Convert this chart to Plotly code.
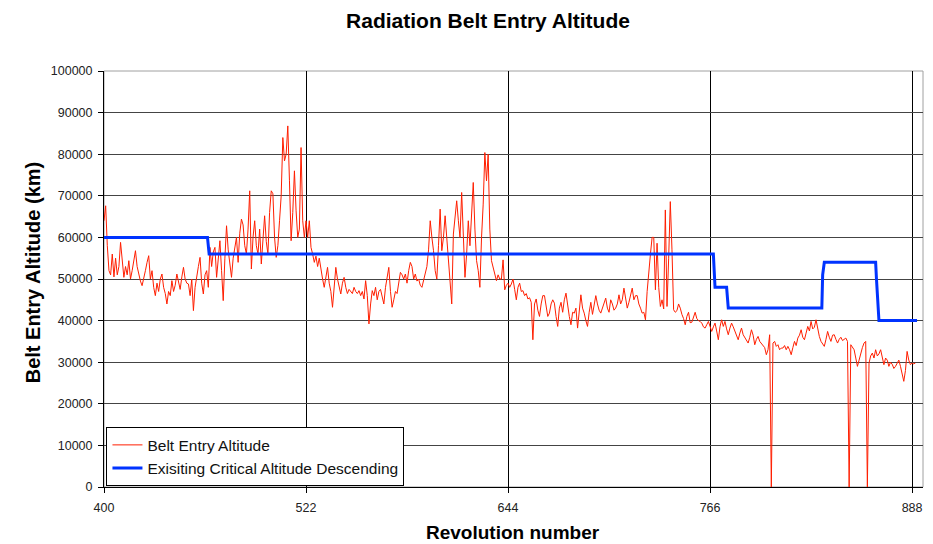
import plotly.graph_objects as go

# Revolution numbers for the measured series (one value per revolution)
rev_start = 400
belt_entry_altitude = [
    64000, 67600, 58000, 52000, 51000, 56000, 50500, 55000, 51000, 53000,
    58800, 54000, 50400, 53000, 51000, 54400, 50000, 52000, 55000, 56800,
    53000, 51000, 49500, 48400, 50000, 52000, 54000, 55600, 50000, 52000,
    48000, 46000, 49000, 47000, 50000, 51200, 48000, 46500, 44000, 47000,
    46000, 49600, 47000, 48500, 51200, 49000, 47500, 50500, 52800, 50000,
    49000, 48800, 46000, 50000, 42400, 48000, 51000, 53000, 55200, 49000,
    46400, 51000, 52000, 48000, 57600, 53000, 56500, 57600, 50400, 54000,
    59200, 52000, 44800, 55000, 62800, 57000, 53000, 50400, 55000, 58000,
    60000, 54000, 61000, 64400, 63000, 58000, 56000, 62000, 71200, 52400,
    60000, 64000, 58000, 56000, 62000, 53600, 60000, 65200, 59000, 56000,
    66000, 71200, 70500, 60000, 55200, 58000, 64000, 70000, 84000, 78400,
    80000, 86800, 73600, 59200, 66000, 76000, 66400, 60000, 62000, 81600,
    64000, 60000, 64000, 60000, 64000, 57600, 56000, 54000, 55500, 53000,
    55000, 52000, 50000, 48000, 51000, 52800, 49000, 47000, 43200, 49000,
    52800, 50000, 48000, 46400, 49000, 50400, 48000, 46500, 47500, 47000,
    46500, 48000, 47000, 46500, 47200, 46000, 47000, 45200, 49600, 46000,
    39200, 44000, 47200, 46000, 48000, 45000, 47000, 47500, 45500, 44000,
    48000, 50000, 52800, 47000, 43200, 45000, 47000, 46500, 49000, 51600,
    51000, 50000, 51200, 49000, 52000, 54000, 53000, 50000, 51200, 49500,
    50000, 48500, 48000, 49500, 51000, 53000, 57000, 64000, 60000, 56800,
    52000, 50000, 58000, 66800, 56800, 60000, 65200, 60000, 56000, 50000,
    44000, 60800, 65000, 68800, 64000, 60000, 70800, 61000, 50400, 56000,
    64000, 58000, 66000, 73200, 62000, 54400, 52000, 48000, 60000, 68000,
    80400, 73600, 80000, 62000, 54400, 52800, 51000, 49600, 51000, 50000,
    50000, 54600, 47400, 48500, 49000, 48000, 48800, 50000, 47500, 45000,
    48000, 49000, 47000, 47200, 46000, 46500, 45200, 45500, 44400, 35400,
    44000, 45200, 42500, 41000, 44000, 46000, 46000, 43000, 41000, 41800,
    44000, 45000, 44200, 41000, 38600, 43000, 44400, 42000, 45000, 46600,
    43000, 41000, 39000, 42000, 41800, 43000, 38200, 42000, 46200, 43000,
    41800, 40000, 38600, 42000, 44400, 41500, 44000, 46000, 44000, 42500,
    41800, 43000, 44000, 45400, 43000, 42000, 45000, 44000, 42500, 43000,
    44000, 46200, 44000, 45000, 47800, 45000, 43000, 44400, 46000, 47800,
    45000, 46000, 46000, 44000, 43000, 41800, 42000, 40200, 47000, 52600,
    56000, 60000, 60000, 47400, 58600, 48000, 43400, 45000, 42800, 66600,
    43400, 55000, 68600, 57000, 42600, 42000, 42400, 44000, 43000, 41500,
    40500, 39000, 41000, 42000, 39500, 39600, 41000, 42000, 40500, 40000,
    39800, 39400, 38500, 38200, 39000, 39800, 38600, 37400, 38500, 39400,
    37500, 35400, 38500, 40200, 38600, 39800, 38000, 36600, 38200, 39400,
    38500, 37500, 36500, 35400, 37000, 38200, 36600, 36000, 35400, 34600,
    36000, 37800, 36500, 34200, 35500, 36200, 35000, 34500, 34200, 33500,
    31800, 33000, 36600, 0, 34600, 35000, 33800, 34200, 33000, 33400,
    33400, 34000, 33000, 33800, 33000, 31800, 33500, 35000, 34000, 35800,
    36500, 37800, 36000, 35400, 37000, 38600, 37500, 39800, 38000, 38400,
    40200, 38000, 36200, 35000, 34500, 33800, 35500, 37400, 36000, 35000,
    36500, 36600, 35500, 34600, 35500, 36000, 35200, 35600, 35800, 35000,
    0, 34200, 33500, 33000, 31000, 29000, 30500, 32200, 33500, 34600,
    35000, 0, 29800, 31500, 32200, 31000, 33000, 31500, 32000, 33000,
    31000, 29400, 31000, 30500, 29000, 30000, 29500, 28500, 29000, 29600,
    30500, 29000, 27500, 25400, 28000, 32600, 30500, 29400, 29800, 29600,
    29800,
]
revolutions = list(range(rev_start, rev_start + len(belt_entry_altitude)))

# Existing critical altitude (descending) step series
critical_rev = [400, 462.5, 463.5, 768, 768.5, 769, 776, 776.5, 777,
                833.5, 834, 835, 866, 866.5, 867.5, 868, 891]
critical_alt = [60000, 60000, 56000, 56000, 52000, 48000, 48000, 45500, 43000,
                43000, 51000, 54000, 54000, 50000, 44000, 40000, 40000]

x_ticks = [400, 522, 644, 766, 888]

fig = go.Figure()
fig.add_trace(go.Scatter(
    x=revolutions, y=belt_entry_altitude, mode="lines",
    name="Belt Entry Altitude",
    line=dict(color="rgb(255,30,0)", width=1),
))
fig.add_trace(go.Scatter(
    x=critical_rev, y=critical_alt, mode="lines",
    name="Exisiting Critical Altitude Descending",
    line=dict(color="rgb(0,51,255)", width=3),
))

font_family = "Liberation Sans, Arial, sans-serif"

# page body has an 8px margin, so the figure is 8px smaller and offset
W, H = 925, 536
fig.update_layout(
    width=W, height=H,
    margin=dict(l=96, r=10, t=63, b=57),
    paper_bgcolor="white", plot_bgcolor="white",
    font=dict(family=font_family, color="black"),
    hovermode=False,
    title=dict(text="<b>Radiation Belt Entry Altitude</b>",
               x=(488 - 8) / W, xref="container", xanchor="center",
               y=1 - (21 - 8) / H, yref="container", yanchor="middle",
               font=dict(size=21, family=font_family, color="black")),
    showlegend=True,
    legend=dict(x=0.003, y=0.1435, xanchor="left", yanchor="top",
                bgcolor="white", bordercolor="black", borderwidth=1,
                font=dict(size=15.5, family=font_family, color="#111"),
                itemwidth=30, tracegroupgap=0),
    xaxis=dict(range=[400, 894.6], tickmode="array", tickvals=x_ticks,
               ticktext=[str(v) for v in x_ticks],
               showgrid=True, gridcolor="black", gridwidth=1,
               showline=True, linecolor="black", linewidth=1,
               ticks="outside", ticklen=5, tickcolor="black",
               tickfont=dict(size=12.5, color="#222"),
               ticklabelstandoff=4, zeroline=False),
    yaxis=dict(range=[0, 100000], dtick=10000, tick0=0, tickformat="d",
               showgrid=True, gridcolor="#444", gridwidth=1,
               showline=True, linecolor="black", linewidth=1,
               ticks="outside", ticklen=5, tickcolor="black",
               tickfont=dict(size=12.5, color="#222"),
               ticklabelstandoff=3, zeroline=False),
    shapes=[dict(type="rect", xref="paper", yref="paper", x0=0, x1=1, y0=0, y1=1,
                 line=dict(color="#a0a0a0", width=1), layer="below")],
    annotations=[
        dict(text="<b>Revolution number</b>", xref="paper", yref="paper",
             x=(513 - 104) / 819, y=(486.7 - 532) / 416,
             xanchor="center", yanchor="middle", showarrow=False,
             font=dict(size=19, family=font_family, color="black")),
        dict(text="<b>Belt Entry Altitude (km)</b>", xref="paper", yref="paper",
             x=(33 - 104) / 819, y=(486.7 - 272) / 416, textangle=-90,
             xanchor="center", yanchor="middle", showarrow=False,
             font=dict(size=20, family=font_family, color="black")),
    ],
)

fig.write_html("out.html")
